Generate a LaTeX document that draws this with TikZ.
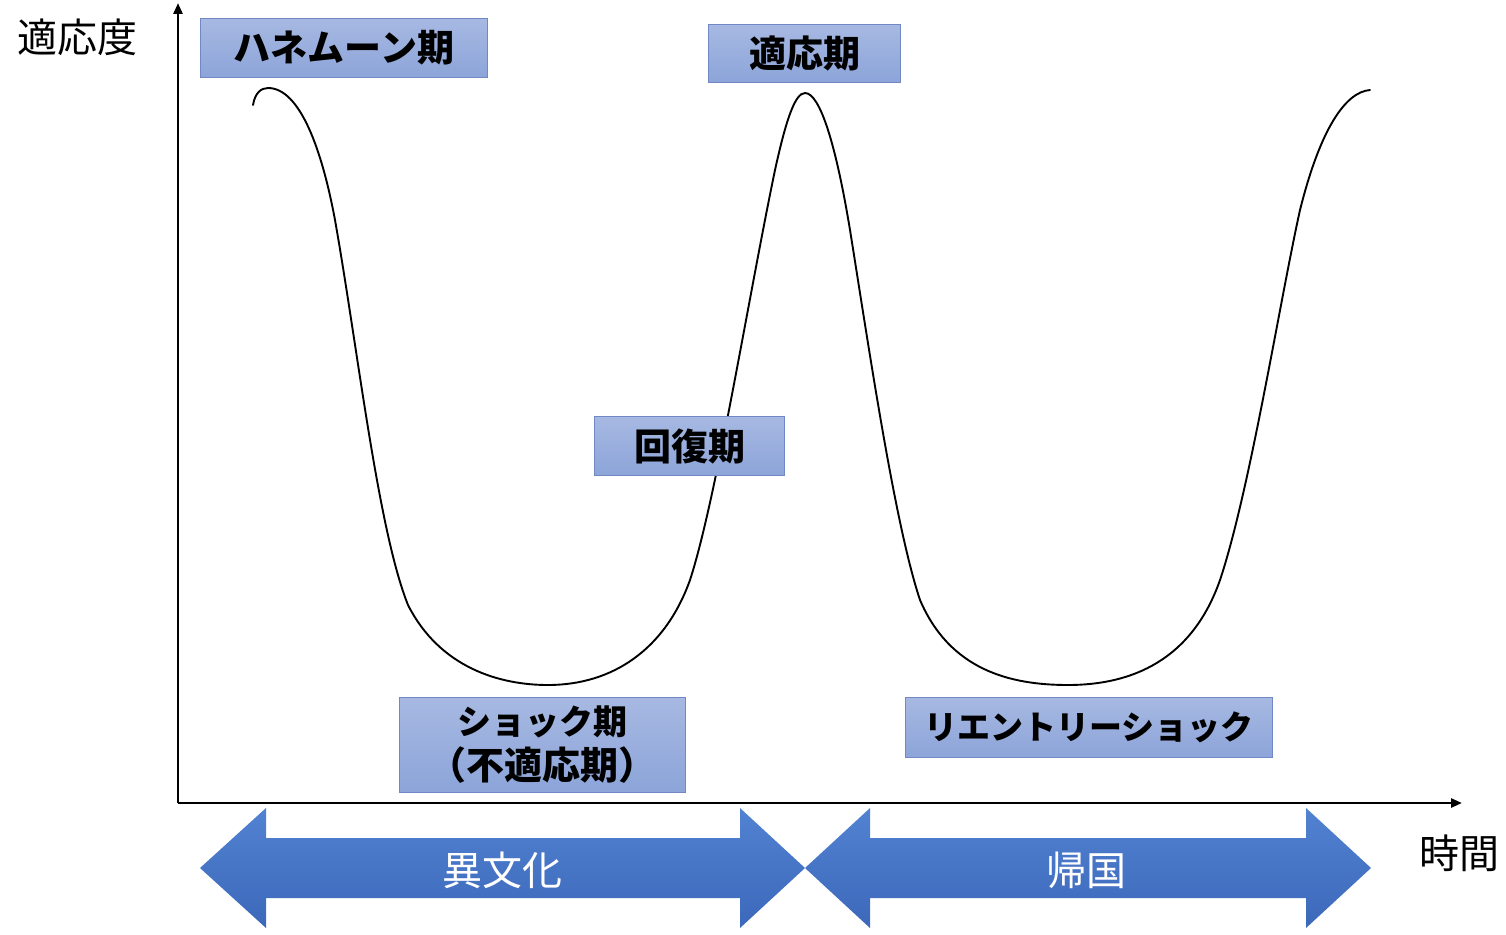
\documentclass[tikz,border=0pt]{standalone}
\usepackage{fontspec}
\newfontfamily\jp{Noto Sans CJK JP}
\usetikzlibrary{arrows.meta}
\definecolor{boxtop}{HTML}{A7B9E2}
\definecolor{boxbot}{HTML}{8CA4D9}
\definecolor{boxline}{HTML}{7088C4}
\definecolor{arrtop}{HTML}{5282D2}
\definecolor{arrbot}{HTML}{3C68BA}
\tikzset{
  phase/.style={draw=boxline, line width=1pt, top color=boxtop, bottom color=boxbot,
    font=\jp\bfseries\fontsize{37}{40}\selectfont, align=center, inner sep=0pt, anchor=north west},
  axislabel/.style={font=\jp\fontsize{40}{44}\selectfont, inner sep=0pt},
  arrowlabel/.style={font=\jp\fontsize{40}{44}\selectfont, text=white, inner sep=0pt},
  blockarrow/.style={top color=arrtop, bottom color=arrbot, draw=none},
  axis/.style={line width=2.6pt, -{Triangle[length=11pt,width=9pt]}},
  wave/.style={line width=1.9pt, line cap=round}
}
\begin{document}
\begin{tikzpicture}[x=1pt,y=-1pt]
\useasboundingbox (0,0) rectangle (1506,934);
% axes
\coordinate (O) at (178,803);
\coordinate (ytip) at (178,3);
\coordinate (xtip) at (1462,803);
\draw[axis] (O) -- (ytip);
\draw[axis] (O) -- (xtip);
\node[axislabel] (ylab) at (77,37) {適応度};
\node[axislabel] (xlab) at (1459,853) {時間};
% curve
\draw[wave] (253,105) .. controls (255,93) and (261,88) .. (268,88)
  .. controls (300,88) and (322,150) .. (335,220)
  .. controls (358,350) and (378,530) .. (408,605)
  .. controls (440,668) and (500,685) .. (548,685)
  .. controls (612,685) and (665,650) .. (690,580)
  .. controls (716,500) and (748,300) .. (775,170)
  .. controls (786,120) and (795,93) .. (805,93)
  .. controls (820,93) and (836,145) .. (850,230)
  .. controls (870,355) and (895,525) .. (920,600)
  .. controls (950,670) and (1010,685) .. (1068,685)
  .. controls (1132,685) and (1192,660) .. (1220,580)
  .. controls (1250,490) and (1280,300) .. (1300,210)
  .. controls (1320,130) and (1345,92) .. (1370,90);
% phase boxes
\node[phase, minimum width=287pt, minimum height=59pt] (honey) at (200,18) {ハネムーン期};
\node[phase, minimum width=192pt, minimum height=58pt] (adapt) at (708,24) {適応期};
\node[phase, minimum width=190pt, minimum height=59pt] (recov) at (594,416) {回復期};
\node[phase, minimum width=286pt, minimum height=95pt, font=\jp\bfseries\fontsize{34}{45}\selectfont] (shock) at (399,697) {ショック期\\{\fontsize{38}{45}\selectfont（不適応期）}};
\node[phase, minimum width=367pt, minimum height=60pt, font=\jp\bfseries\fontsize{33}{40}\selectfont] (reentry) at (905,697) {リエントリーショック};
% block arrows
\path[blockarrow] (200,868) -- (266,808) -- (266,838) -- (740,838) -- (740,808) -- (805,868)
  -- (740,928) -- (740,898) -- (266,898) -- (266,928) -- cycle;
\path[blockarrow] (805,868) -- (870,808) -- (870,838) -- (1306,838) -- (1306,808) -- (1371,868)
  -- (1306,928) -- (1306,898) -- (870,898) -- (870,928) -- cycle;
\node[arrowlabel] (abroad) at (502,870) {異文化};
\node[arrowlabel] (home) at (1086,870) {帰国};
\end{tikzpicture}
\end{document}
